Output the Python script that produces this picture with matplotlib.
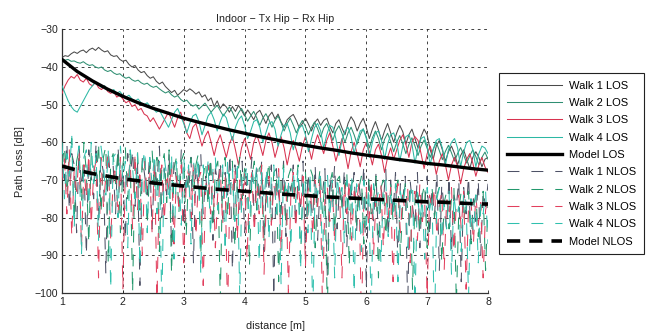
import numpy as np
import matplotlib
matplotlib.use("Agg")
import matplotlib.pyplot as plt

plt.rcParams['font.family'] = ['Liberation Sans', 'DejaVu Sans']
plt.rcParams['lines.scale_dashes'] = False

# distance sampling of the measurement walks [m]
d_min, d_max = 1.0, 8.0
n_los, n_nlos = 141, 176

# path loss along the LOS walks [dB]
walk1_los = [
    -37.5, -37.0, -37.2, -36.5, -36.0, -36.4, -35.8, -35.5, -36.2, -35.4,
    -35.0, -35.6, -34.8, -35.5, -36.0, -35.7, -36.8, -37.2, -37.0, -38.0,
    -38.5, -38.2, -39.3, -40.0, -39.6, -40.8, -41.5, -41.2, -42.3, -43.0,
    -42.6, -43.8, -44.5, -44.0, -45.2, -46.0, -46.8, -46.2, -47.5, -46.8,
    -46.0, -46.5, -45.8, -46.4, -47.2, -46.6, -48.0, -47.4, -49.0, -48.2,
    -50.5, -49.0, -51.0, -49.8, -50.6, -52.0, -50.5, -51.8, -50.2, -51.5,
    -53.0, -51.4, -52.6, -54.0, -52.2, -51.5, -53.2, -55.0, -53.0, -52.0,
    -53.8, -52.5, -54.6, -56.0, -54.0, -53.2, -52.6, -54.2, -56.2, -55.0,
    -53.6, -55.2, -57.0, -54.8, -53.8, -55.5, -54.2, -53.6, -55.8, -57.5,
    -55.0, -54.0, -56.2, -58.0, -55.0, -53.2, -54.5, -57.0, -55.0, -53.6,
    -56.0, -59.0, -56.5, -54.5, -56.8, -59.5, -57.0, -55.0, -57.5, -60.0,
    -57.5, -55.5, -57.2, -60.5, -58.0, -56.5, -59.0, -61.5, -58.5, -56.5,
    -58.0, -62.0, -64.5, -61.0, -59.5, -62.0, -65.0, -62.5, -61.0, -63.0,
    -66.0, -63.5, -62.0, -64.5, -67.0, -64.0, -62.5, -64.0, -66.5, -64.5, -64.0,
]
walk2_los = [
    -38.0, -38.2, -38.0, -38.5, -38.4, -38.8, -39.0, -38.6, -39.2, -39.6,
    -39.4, -40.0, -40.3, -40.0, -40.8, -41.2, -40.9, -41.6, -42.0, -41.8,
    -42.5, -43.0, -42.7, -43.4, -43.8, -43.5, -44.2, -44.6, -44.3, -45.0,
    -45.4, -45.1, -45.8, -46.4, -46.9, -46.5, -47.4, -48.0, -47.6, -48.6,
    -49.2, -48.8, -49.8, -50.4, -50.0, -51.2, -50.4, -49.6, -50.8, -52.0,
    -51.0, -50.2, -51.6, -53.0, -51.8, -50.6, -52.0, -53.8, -52.2, -51.0,
    -52.6, -54.4, -53.0, -51.8, -53.5, -55.5, -53.6, -52.4, -54.0, -56.0,
    -54.2, -53.0, -54.8, -57.0, -55.0, -53.6, -55.4, -57.5, -55.6, -54.2,
    -55.8, -58.0, -56.0, -54.6, -56.4, -58.6, -56.2, -55.0, -57.0, -59.5,
    -57.0, -55.6, -57.6, -60.0, -57.5, -56.0, -58.0, -60.5, -58.0, -56.4,
    -58.6, -61.5, -58.8, -57.0, -59.0, -62.0, -59.2, -57.6, -59.8, -62.5,
    -60.0, -58.2, -60.4, -63.0, -60.6, -58.8, -61.0, -63.5, -61.0, -59.4,
    -61.6, -64.0, -61.8, -60.0, -62.2, -64.6, -62.4, -60.8, -62.8, -65.0,
    -63.0, -61.4, -63.4, -65.5, -63.6, -62.0, -63.8, -66.0, -64.0, -62.6, -64.5,
]
walk3_los = [
    -47.0, -45.0, -43.5, -42.5, -43.0, -42.0, -43.5, -44.0, -43.0, -44.5,
    -45.0, -44.0, -45.5, -46.0, -45.0, -46.5, -47.0, -46.5, -48.0, -47.5,
    -48.5, -49.5, -49.0, -50.5, -50.0, -51.5, -51.0, -52.5, -53.0, -54.5,
    -53.5, -55.0, -56.5, -55.0, -53.5, -52.0, -54.0, -56.0, -53.5, -52.0,
    -54.5, -57.5, -59.0, -56.0, -55.0, -58.0, -61.0, -58.5, -57.0, -60.0,
    -63.5, -60.0, -58.0, -61.0, -64.0, -60.5, -58.5, -62.0, -66.0, -61.5,
    -59.0, -61.5, -64.5, -60.0, -58.0, -60.5, -63.5, -59.5, -57.5, -60.0,
    -64.0, -61.0, -58.5, -61.5, -66.0, -62.0, -59.5, -62.0, -65.0, -61.0,
    -58.5, -61.0, -64.5, -60.5, -58.0, -60.5, -63.0, -59.5, -57.5, -61.0,
    -65.0, -62.0, -59.0, -62.5, -67.0, -62.5, -60.0, -63.0, -66.5, -62.0,
    -60.0, -62.5, -66.0, -62.0, -60.5, -63.5, -68.0, -64.0, -61.5, -64.5,
    -62.0, -59.5, -58.0, -60.5, -64.0, -60.0, -58.5, -59.5, -63.0, -67.0,
    -63.0, -61.0, -64.0, -68.5, -65.0, -63.0, -66.0, -70.0, -66.0, -64.0,
    -66.5, -71.0, -67.0, -64.5, -63.0, -65.5, -69.0, -66.0, -64.0, -66.5, -68.0,
]
walk4_los = [
    -45.0, -47.0, -49.0, -50.5, -51.5, -52.0, -50.5, -49.0, -47.5, -46.0,
    -45.0, -44.0, -44.5, -45.5, -45.0, -46.0, -46.5, -46.0, -47.0, -46.5,
    -47.5, -48.0, -47.5, -48.5, -49.0, -48.5, -49.5, -50.0, -49.5, -50.5,
    -51.0, -52.0, -51.5, -53.0, -54.5, -56.0, -54.0, -52.0, -51.0, -53.0,
    -55.0, -57.5, -55.0, -53.0, -52.5, -54.5, -58.0, -55.5, -53.0, -52.0,
    -54.0, -57.0, -54.5, -52.5, -53.5, -56.5, -59.5, -56.0, -54.0, -53.0,
    -55.5, -59.0, -57.0, -54.5, -54.0, -56.0, -60.0, -57.5, -55.0, -54.5,
    -56.5, -61.0, -58.0, -55.5, -55.0, -57.5, -62.0, -58.5, -56.0, -55.5,
    -58.0, -62.5, -59.0, -56.0, -55.0, -57.0, -61.5, -58.0, -55.5, -56.0,
    -59.0, -63.5, -59.5, -57.0, -56.0, -58.5, -63.0, -59.5, -57.0, -56.5,
    -59.0, -64.0, -60.0, -57.5, -57.0, -59.5, -64.5, -60.5, -58.0, -57.5,
    -60.0, -65.0, -61.0, -58.5, -58.0, -60.5, -65.5, -61.5, -59.0, -58.5,
    -61.0, -66.0, -62.0, -59.5, -59.0, -61.5, -66.0, -62.0, -60.0, -59.0,
    -61.5, -66.5, -62.5, -60.0, -59.5, -62.0, -66.5, -63.0, -61.0, -61.5, -63.0,
]

# path loss along the NLOS walks [dB]
walk1_nlos = [
    -62, -70, -60, -78, -63, -66, -84, -61, -72, -65, -90,
    -62, -69, -75, -60, -81, -64, -68, -95, -62, -71, -66,
    -79, -61, -73, -67, -86, -63, -70, -62, -77, -65, -98,
    -64, -69, -74, -63, -83, -66, -71, -61, -80, -67, -74,
    -63, -88, -65, -70, -76, -62, -82, -68, -73, -64, -92,
    -66, -72, -63, -79, -69, -75, -64, -86, -67, -71, -65,
    -80, -68, -74, -63, -94, -66, -72, -78, -65, -84, -69,
    -73, -64, -81, -67, -76, -65, -89, -68, -72, -66, -101,
    -67, -74, -79, -65, -85, -70, -73, -66, -82, -69, -77,
    -65, -91, -68, -75, -80, -66, -86, -71, -74, -67, -96,
    -69, -76, -66, -83, -72, -78, -67, -88, -70, -74, -68,
    -84, -71, -77, -66, -99, -69, -75, -81, -68, -87, -72,
    -76, -67, -85, -70, -79, -68, -92, -71, -75, -69, -104,
    -70, -77, -82, -68, -88, -73, -76, -69, -85, -72, -80,
    -68, -94, -71, -78, -83, -69, -89, -74, -77, -70, -97,
    -72, -79, -69, -86, -75, -81, -70, -90, -73, -77, -71,
]
walk2_nlos = [
    -66, -61, -74, -64, -59, -81, -65, -62, -76, -60, -68,
    -87, -63, -66, -72, -60, -79, -64, -61, -92, -65, -63,
    -71, -62, -84, -66, -61, -75, -63, -100, -64, -62, -78,
    -65, -63, -82, -67, -62, -73, -64, -89, -66, -63, -76,
    -62, -95, -67, -64, -79, -65, -63, -85, -68, -64, -74,
    -66, -63, -90, -69, -65, -77, -64, -82, -67, -65, -102,
    -68, -64, -80, -66, -65, -88, -70, -64, -75, -67, -66,
    -93, -69, -65, -78, -67, -66, -86, -71, -65, -81, -68,
    -67, -97, -70, -66, -83, -69, -67, -76, -72, -66, -91,
    -70, -68, -80, -67, -69, -88, -73, -67, -79, -70, -105,
    -71, -68, -84, -70, -69, -77, -74, -68, -93, -71, -70,
    -82, -72, -69, -87, -73, -70, -79, -75, -69, -96, -72,
    -70, -85, -74, -71, -81, -73, -70, -90, -76, -71, -78,
    -73, -99, -75, -72, -84, -74, -71, -88, -77, -72, -80,
    -74, -72, -92, -76, -73, -83, -75, -72, -103, -78, -73,
    -81, -75, -73, -87, -77, -74, -85, -78, -73, -94, -76,
]
walk3_nlos = [
    -70, -64, -79, -62, -85, -67, -73, -63, -88, -66, -75,
    -63, -82, -68, -65, -96, -64, -77, -69, -62, -86, -70,
    -66, -80, -64, -99, -68, -72, -65, -83, -63, -78, -67,
    -90, -65, -74, -67, -84, -64, -102, -70, -66, -81, -68,
    -73, -65, -87, -69, -77, -66, -92, -71, -67, -80, -65,
    -85, -70, -68, -98, -72, -66, -79, -68, -88, -73, -67,
    -82, -69, -106, -71, -74, -67, -86, -70, -77, -68, -91,
    -72, -68, -84, -70, -79, -66, -95, -73, -69, -82, -71,
    -76, -67, -89, -72, -70, -100, -74, -68, -83, -71, -78,
    -69, -93, -73, -71, -85, -70, -77, -69, -104, -75, -72,
    -81, -70, -87, -74, -72, -96, -71, -79, -70, -86, -73,
    -76, -71, -108, -75, -72, -83, -70, -90, -74, -77, -71,
    -88, -73, -80, -72, -97, -76, -71, -84, -74, -79, -72,
    -92, -75, -73, -86, -71, -81, -76, -101, -74, -78, -72,
    -85, -77, -73, -94, -75, -80, -72, -89, -76, -74, -83,
    -73, -99, -77, -75, -87, -74, -82, -76, -96, -78, -75,
]
walk4_nlos = [
    -60, -75, -63, -69, -58, -83, -65, -61, -90, -64, -62,
    -77, -60, -71, -63, -86, -61, -66, -74, -62, -99, -64,
    -63, -80, -61, -70, -65, -88, -62, -67, -75, -63, -93,
    -66, -62, -84, -64, -71, -63, -79, -65, -104, -64, -69,
    -76, -63, -91, -65, -68, -82, -64, -72, -66, -87, -65,
    -70, -64, -95, -66, -73, -65, -85, -67, -64, -78, -68,
    -66, -89, -65, -74, -67, -81, -65, -101, -68, -70, -66,
    -83, -67, -72, -66, -92, -68, -75, -67, -86, -69, -66,
    -79, -68, -98, -67, -73, -70, -88, -68, -76, -67, -94,
    -69, -71, -84, -68, -107, -70, -74, -69, -90, -71, -68,
    -80, -70, -96, -69, -75, -72, -87, -70, -78, -69, -100,
    -71, -73, -89, -70, -82, -72, -105, -71, -76, -73, -92,
    -72, -70, -85, -74, -79, -71, -97, -73, -77, -72, -88,
    -74, -71, -103, -73, -81, -75, -91, -72, -78, -74, -110,
    -75, -72, -86, -76, -83, -73, -95, -74, -80, -77, -89,
    -73, -76, -101, -75, -84, -74, -92, -76, -79, -73, -87,
]

# fitted log-distance models [dB] at these distances [m]
model_d = [1.0, 1.25, 1.5, 1.75, 2.0, 2.25, 2.5, 2.75, 3.0, 3.25, 3.5, 3.75,
           4.0, 4.25, 4.5, 4.75, 5.0, 5.25, 5.5, 5.75, 6.0, 6.25, 6.5, 6.75,
           7.0, 7.25, 7.5, 7.75, 8.0]
model_los = [-38.0, -41.2, -43.7, -45.9, -47.8, -49.5, -51.0, -52.3, -53.6,
             -54.7, -55.7, -56.7, -57.6, -58.5, -59.3, -60.1, -60.8, -61.5,
             -62.1, -62.8, -63.4, -63.9, -64.5, -65.0, -65.6, -66.0, -66.5,
             -67.0, -67.4]
model_nlos = [-66.3, -67.4, -68.3, -69.0, -69.7, -70.2, -70.8, -71.2, -71.6,
              -72.0, -72.4, -72.7, -73.0, -73.3, -73.6, -73.9, -74.1, -74.4,
              -74.6, -74.8, -75.0, -75.2, -75.4, -75.6, -75.8, -75.9, -76.1,
              -76.3, -76.4]

x_ticks = [1, 2, 3, 4, 5, 6, 7, 8]
y_ticks = [-100, -90, -80, -70, -60, -50, -40, -30]

d_los = np.linspace(d_min, d_max, n_los)
d_nlos = np.linspace(d_min, d_max, n_nlos)

c1, c2, c3, c4 = '#4a4a4a', '#2f8f72', '#d8324f', '#2cb8a4'
c1n, c2n, c3n, c4n = '#4e5266', '#23986c', '#e2405e', '#30c0ae'

fig = plt.figure(figsize=(6.48, 3.31), dpi=100)
ax = fig.add_axes([0.0957, 0.1148, 0.6574, 0.7967])

thin = 0.75
dash_thin = (0, (8.6, 8.6))
dash_thick = (0, (9.5, 6.5))

ax.plot(d_los, walk1_los, color=c1, lw=thin, label='Walk 1 LOS', zorder=3)
ax.plot(d_los, walk2_los, color=c2, lw=thin, label='Walk 2 LOS', zorder=3)
ax.plot(d_los, walk3_los, color=c3, lw=thin, label='Walk 3 LOS', zorder=3)
ax.plot(d_los, walk4_los, color=c4, lw=thin, label='Walk 4 LOS', zorder=3)
ax.plot(model_d, model_los, color='black', lw=2.4, label='Model LOS', zorder=6)
ax.plot(d_nlos, walk1_nlos, color=c1n, lw=thin, ls=dash_thin, label='Walk 1 NLOS', zorder=4)
ax.plot(d_nlos, walk2_nlos, color=c2n, lw=thin, ls=dash_thin, label='Walk 2 NLOS', zorder=4)
ax.plot(d_nlos, walk3_nlos, color=c3n, lw=thin, ls=dash_thin, label='Walk 3 NLOS', zorder=4)
ax.plot(d_nlos, walk4_nlos, color=c4n, lw=thin, ls=dash_thin, label='Walk 4 NLOS', zorder=4)
ax.plot(model_d, model_nlos, color='black', lw=2.6, ls=dash_thick, label='Model NLOS', zorder=7)

ax.set_xlim(d_min, d_max)
ax.set_ylim(-100, -30)
ax.set_xticks(x_ticks)
ax.set_yticks(y_ticks)
ax.tick_params(direction='in', length=2.5, width=0.6, labelsize=7.6,
               colors='#222222', pad=3)
ax.grid(True, color='#222222', ls=(0, (2, 2.6)), lw=0.6)
ax.set_axisbelow(True)
for side in ('top', 'right'):
    ax.spines[side].set_visible(False)
for side in ('left', 'bottom'):
    ax.spines[side].set_color('#333333')
    ax.spines[side].set_linewidth(0.9)

ax.set_title('Indoor \u2212 Tx Hip \u2212 Rx Hip', fontsize=7.7, pad=5, color='#222222')
ax.set_xlabel('distance [m]', fontsize=7.8, color='#222222')
ax.set_ylabel('Path Loss [dB]', fontsize=7.8, color='#222222')
ax.xaxis.set_label_coords(0.5, -0.105)
ax.yaxis.set_label_coords(-0.088, 0.5)

leg = ax.legend(loc='upper left', bbox_to_anchor=(0.770, 0.7795),
                bbox_transform=fig.transFigure, borderaxespad=0,
                fontsize=8.0, frameon=True, fancybox=False, framealpha=1,
                edgecolor='#222222', handlelength=5.0, handletextpad=0.66,
                labelspacing=0.66, borderpad=0.68)
leg.get_frame().set_linewidth(0.8)

fig.savefig('out.png', dpi=100)
